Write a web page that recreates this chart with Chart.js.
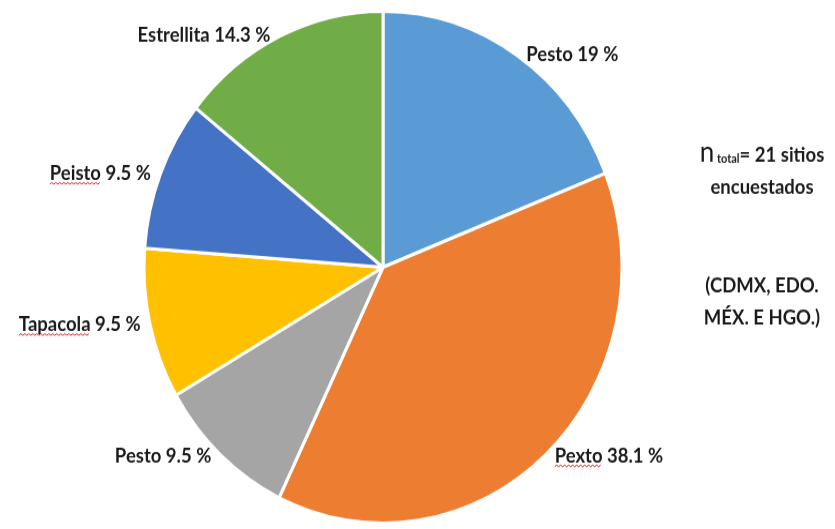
<!DOCTYPE html>
<html>
<head>
<meta charset="utf-8">
<script src="https://cdn.jsdelivr.net/npm/chart.js@4/dist/chart.umd.min.js"></script>
<style>
  html { overflow: hidden; }
  html, body { margin: 0; padding: 0; background: #fff; }
  body { height: 529px; }
  #wrap {
    width: 835px;
    height: 494px;
    transform: scale(1, 1.0709);
    transform-origin: 0 0;
  }
  #pastel { display: block; }
</style>
</head>
<body>
<div id="wrap"><canvas id="pastel" width="835" height="494"></canvas></div>
<script>
// variedades encontradas y su porcentaje
const categorias = ['Pesto', 'Pexto', 'Pesto', 'Tapacola', 'Peisto', 'Estrellita'];
const porcentajes = [19, 38.1, 9.5, 9.5, 9.5, 14.3];
const colores = ['#5B9BD5', '#ED7D31', '#A5A5A5', '#FFC000', '#4472C4', '#70AD47'];

// palabras con subrayado ondulado del corrector
const subrayadas = ['Peisto', 'Tapacola', 'Pexto'];

const FUENTE = 'Lato, "Open Sans", sans-serif';
const COLOR_TEXTO = '#1a1a1a';

function ondulado(ctx, x0, x1, y) {
  ctx.save();
  ctx.strokeStyle = '#e02020';
  ctx.lineWidth = 1;
  ctx.beginPath();
  ctx.moveTo(x0, y);
  let arriba = true;
  for (let x = x0 + 2; x <= x1; x += 2) {
    ctx.lineTo(x, arriba ? y - 1.5 : y);
    arriba = !arriba;
  }
  ctx.stroke();
  ctx.restore();
}

// etiquetas fuera del borde, tipo "extremo externo"
const etiquetas = {
  id: 'etiquetas',
  afterDatasetsDraw(chart) {
    const ctx = chart.ctx;
    const meta = chart.getDatasetMeta(0);
    ctx.save();
    ctx.font = 'bold 18.5px ' + FUENTE;
    ctx.fillStyle = COLOR_TEXTO;
    ctx.textBaseline = 'middle';
    ctx.textAlign = 'left';
    meta.data.forEach((arc, i) => {
      const p = arc.getProps(['x', 'y', 'startAngle', 'endAngle', 'outerRadius'], true);
      const mid = (p.startAngle + p.endAngle) / 2;
      const r = p.outerRadius + 1.5;
      const ax = p.x + r * Math.cos(mid);
      const ay = p.y + r * Math.sin(mid);
      const texto = categorias[i] + ' ' + porcentajes[i] + ' %';
      const w = ctx.measureText(texto).width;
      const izq = Math.cos(mid) >= 0 ? ax + 8 : ax - 8 - w;
      ctx.fillText(texto, izq, ay);
      if (subrayadas.includes(categorias[i])) {
        const wp = ctx.measureText(categorias[i]).width;
        ondulado(ctx, izq, izq + wp, ay + 10);
      }
    });
    ctx.restore();
  }
};

// nota a la derecha del pastel
const nota = {
  id: 'nota',
  afterDraw(chart) {
    const ctx = chart.ctx;
    const cx = 762;
    ctx.save();
    ctx.fillStyle = COLOR_TEXTO;
    ctx.textBaseline = 'alphabetic';
    ctx.textAlign = 'left';

    const partes = [
      { t: 'n', f: '26px ' + FUENTE, dy: 0 },
      { t: ' total', f: 'bold 11px ' + FUENTE, dy: 1 },
      { t: '= 21 sitios', f: 'bold 18.5px ' + FUENTE, dy: 0 }
    ];
    let total = 0;
    partes.forEach(pt => { ctx.font = pt.f; pt.w = ctx.measureText(pt.t).width; total += pt.w; });
    let x = cx - total / 2;
    partes.forEach(pt => {
      ctx.font = pt.f;
      ctx.fillText(pt.t, x, 151 + pt.dy);
      x += pt.w;
    });

    ctx.font = 'bold 18.5px ' + FUENTE;
    ctx.textAlign = 'center';
    ctx.fillText('encuestados', cx, 181);
    ctx.fillText('(CDMX, EDO.', cx, 273);
    ctx.fillText('MÉX. E HGO.)', cx, 303);
    ctx.restore();
  }
};

new Chart(document.getElementById('pastel'), {
  type: 'pie',
  data: {
    labels: categorias,
    datasets: [{
      data: porcentajes,
      backgroundColor: colores,
      borderColor: '#ffffff',
      borderWidth: 3
    }]
  },
  options: {
    responsive: false,
    animation: false,
    layout: { padding: { top: 9, bottom: 4, left: 0, right: 69 } },
    plugins: {
      legend: { display: false },
      tooltip: { enabled: false }
    }
  },
  plugins: [etiquetas, nota]
});
</script>
</body>
</html>
